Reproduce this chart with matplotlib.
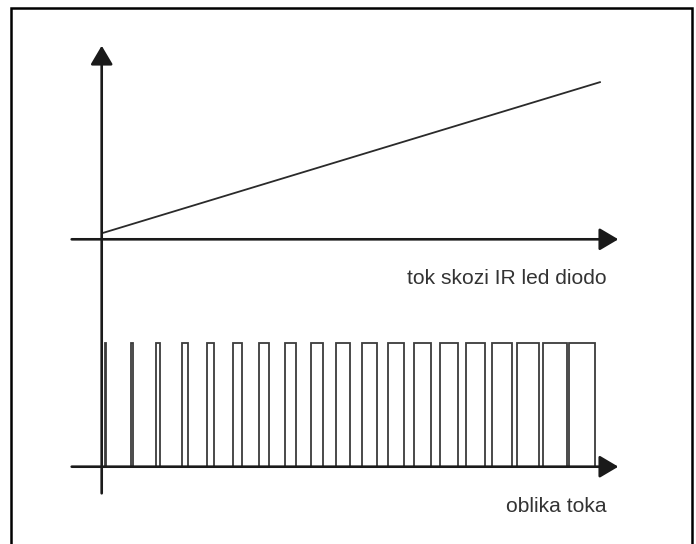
import matplotlib
matplotlib.use("Agg")
import matplotlib.pyplot as plt
from matplotlib.patches import Rectangle
import numpy as np

# ---- data (time in pulse periods, origin at the vertical axis) ----
pulse_starts = [0.12, 1.12, 2.11, 3.12, 4.09, 5.09, 6.10, 7.11, 8.10, 9.10,
                10.11, 11.12, 12.11, 13.12, 14.13, 15.13, 16.12, 17.12, 18.13]
pulse_widths = [0.04, 0.10, 0.155, 0.22, 0.28, 0.34, 0.39, 0.44, 0.48, 0.52,
                0.57, 0.62, 0.67, 0.71, 0.75, 0.80, 0.85, 0.92, 1.01]
pulse_height = 1.0

ramp_t = [0.0, 19.36]
ramp_v = [0.3, 7.87]

label_top = "tok skozi IR led diodo"
label_bottom = "oblika toka"

# ---- figure ----
W, H, DPI = 696, 544, 100
fig = plt.figure(figsize=(W / DPI, H / DPI), dpi=DPI)
fig.patch.set_facecolor("white")

xlim = (-101.7 / 25.78, (W - 101.7) / 25.78)

ax_top = fig.add_axes([0, 0, 1, 1])
ax_top.set_xlim(*xlim)
ax_top.set_ylim((239.3 - H) / 20.0, 239.3 / 20.0)
ax_top.axis("off")

ax_bot = fig.add_axes([0, 0, 1, 1], sharex=ax_top)
ax_bot.set_ylim((466.7 - H) / 123.4, 466.7 / 123.4)
ax_bot.axis("off")
ax_bot.patch.set_alpha(0)

axis_col = "#1a1a1a"
axis_lw = 1.9
arrowprops = dict(arrowstyle="-|>,head_length=11.5,head_width=6.8",
                  mutation_scale=1, shrinkA=0, shrinkB=0,
                  color=axis_col, lw=axis_lw)

x_left, x_tip = -1.164, 20.04

# vertical axis (shared by both diagrams)
ax_top.annotate("", xy=(0, (239.3 - 45.7) / 20.0), xytext=(0, (239.3 - 493.3) / 20.0),
                arrowprops=arrowprops)
# top horizontal axis
ax_top.annotate("", xy=(x_tip, 0), xytext=(x_left, 0), arrowprops=arrowprops)
# bottom horizontal axis
ax_bot.annotate("", xy=(x_tip, 0), xytext=(x_left, 0), arrowprops=arrowprops)

# ramp
ax_top.plot(ramp_t, ramp_v, color="#2a2a2a", lw=1.3, solid_capstyle="butt")

# pulses
for s, w in zip(pulse_starts, pulse_widths):
    ax_bot.plot([s, s, s + w, s + w], [0, pulse_height, pulse_height, 0],
                color="#3c3c3c", lw=1.3, solid_joinstyle="miter")

# labels
font = dict(family=["Liberation Sans", "DejaVu Sans"], size=15.1, color="#333333")
ax_top.text(19.59, -2.26, label_top, ha="right", va="baseline", **font)
ax_bot.text(19.59, -0.371, label_bottom, ha="right", va="baseline", **font)

# frame
fig.add_artist(Rectangle((10.7 / W, -0.02), (691.7 - 10.7) / W, 1 - 8.3 / H + 0.02,
                         transform=fig.transFigure, fill=False,
                         edgecolor="black", lw=1.8))

fig.savefig("out.png", dpi=DPI, facecolor="white")
